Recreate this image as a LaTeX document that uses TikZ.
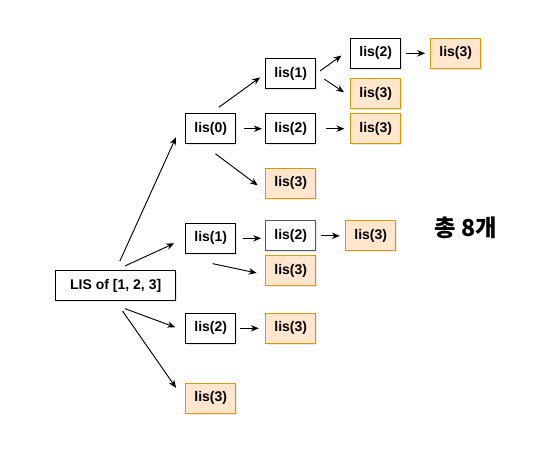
\documentclass[tikz,border=0pt]{standalone}
\usepackage{fontspec}
\setmainfont{Liberation Sans}
\newfontfamily\kofont{Noto Sans CJK KR}
\usepackage{tikz}
\usetikzlibrary{arrows.meta,shadows}
\definecolor{lisorange}{HTML}{D79B00}
\definecolor{lisfill}{HTML}{FFE6CC}

\begin{document}
\begin{tikzpicture}[
    x=0.75pt,y=-0.75pt,
    cl/.style  = {rectangle,draw=black,fill=white,line width=0.75pt,
                  minimum width=37.5pt,minimum height=22.5pt,inner sep=0pt,
                  font=\bfseries\fontsize{10.5}{12}\selectfont,
                  drop shadow={shadow xshift=1.2pt,shadow yshift=-1.2pt,
                               opacity=0.18,fill=gray}},
    lf/.style  = {cl,draw=lisorange,fill=lisfill},
    ar/.style  = {-{Stealth[length=6pt,width=4.8pt]},line width=0.7pt},
  ]
  \useasboundingbox (0,0) rectangle (558,455);

  \node[cl,minimum width=90pt] (root) at (115.7,285.7) {LIS of [1, 2, 3]};

  \node[cl] (a0)   at (210.7,128.7) {lis(0)};
  \node[cl] (a1)   at (290.7,73.7)  {lis(1)};
  \node[cl] (a12)  at (375.7,53.3)  {lis(2)};
  \node[lf] (a123) at (455.7,53.3)  {lis(3)};
  \node[lf] (a13)  at (375.7,93.7)  {lis(3)};
  \node[cl] (a2)   at (290.7,128.7) {lis(2)};
  \node[lf] (a23)  at (375.7,128.7) {lis(3)};
  \node[lf] (a3)   at (290.7,183)   {lis(3)};

  \node[cl] (b1)   at (210.7,238.3) {lis(1)};
  \node[cl,draw=black!65] (b12) at (290.7,235.8) {lis(2)};
  \node[lf] (b123) at (370.7,235.8) {lis(3)};
  \node[lf] (b13)  at (290.7,270.8) {lis(3)};

  \node[cl] (c2)   at (210.7,328.3) {lis(2)};
  \node[lf] (c23)  at (290.7,328.3) {lis(3)};

  \node[lf] (d3)   at (210.7,398.3) {lis(3)};

  \node[font=\kofont\bfseries\fontsize{17.5}{20}\selectfont] (total) at (466,228) {총 8개};

  % from the root
  \draw[ar,shorten <=7.5pt,shorten >=7pt] (root.north) -- ([xshift=-4pt]a0.west);
  \draw[ar,shorten <=7.7pt,shorten >=9pt] (root.north) -- (b1.west);
  \draw[ar,shorten <=7.5pt,shorten >=8pt] ([yshift=-3pt]root.south) -- ([yshift=-2pt]c2.west);
  \draw[ar,shorten <=9pt,shorten >=12pt] (root.south) -- ([yshift=-2pt]d3.west);

  % second level and below
  \foreach \a/\b/\s/\e in {a0/a2/6/2.5,a12/a123/3.75/3.75,a2/a23/7/4.3,
                           b12/b123/3.8/4,c2/c23/2.7/4.8}
    \draw[ar,shorten <=\s pt,shorten >=\e pt] (\a.east) -- (\b.west);
  \draw[ar,shorten <=5pt,shorten >=3pt] (b1.east) -- (b1.east -| b12.west);

  \draw[ar,shorten <=7.5pt,shorten >=4.7pt] (a0.north) -- (a1.west);
  \draw[ar,shorten <=4.5pt,shorten >=7pt] ([yshift=-4.5pt]a0.south) -- ([yshift=-6pt]a3.west);
  \draw[ar,shorten <=3.5pt,shorten >=8pt] (a1.east) -- ([yshift=3pt]a12.west);
  \draw[ar,shorten <=7.4pt,shorten >=5.5pt] (a1.east) -- ([yshift=-2pt]a13.west);
  \draw[ar,shorten <=21pt,shorten >=6.5pt] ([yshift=-3pt]b1.south west) -- ([yshift=-3pt]b13.west);

\end{tikzpicture}
\end{document}
